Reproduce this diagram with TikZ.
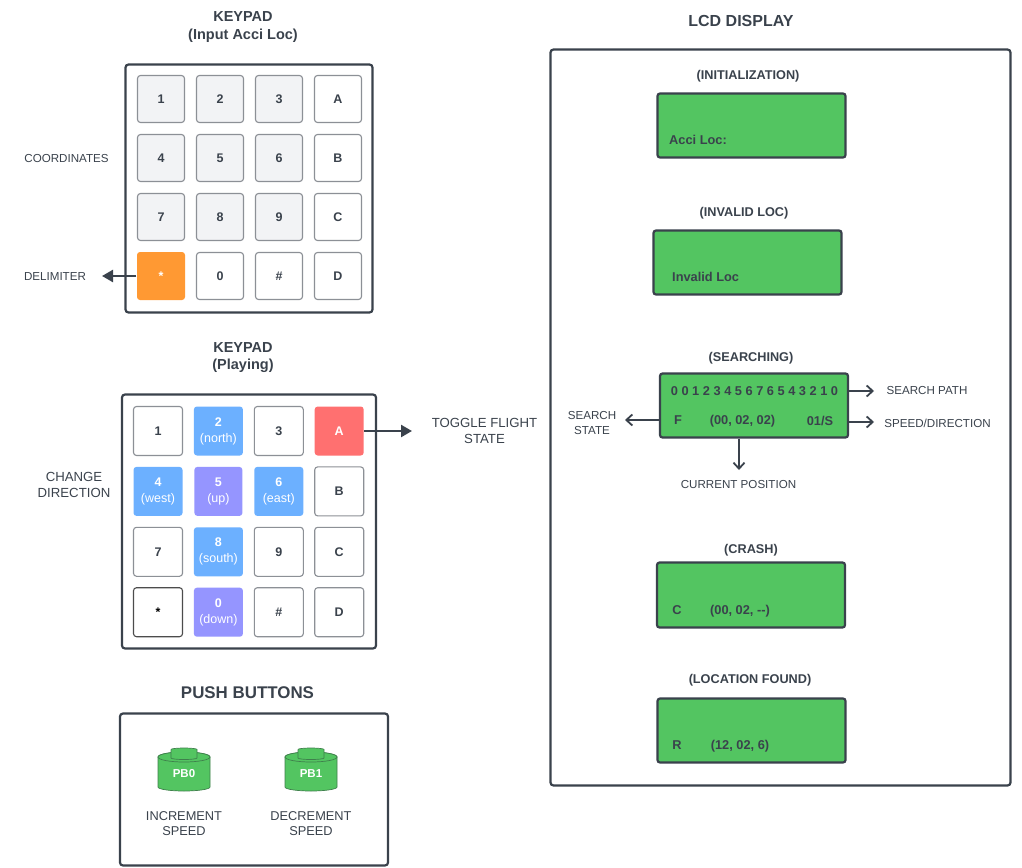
\documentclass[tikz,border=0pt]{standalone}
\usepackage{fontspec}
\setmainfont{Liberation Sans}
\usepackage{tikz}
\usetikzlibrary{positioning,arrows.meta}
\definecolor{ink}{HTML}{3A424C}
\definecolor{keyline}{HTML}{8C9096}
\definecolor{keygrey}{HTML}{F2F3F5}
\definecolor{keyorange}{HTML}{FF9933}
\definecolor{keyred}{HTML}{FF7070}
\definecolor{keyblue}{HTML}{6CB0FF}
\definecolor{keypurple}{HTML}{9595FF}
\definecolor{lcdgreen}{HTML}{53C561}
\definecolor{pbline}{HTML}{3F7F4C}
\tikzstyle{frame}    = [rectangle, rounded corners=3pt, line width=2.2pt, draw=ink, fill=white]
\tikzstyle{keypad}   = [rectangle, rounded corners=3pt, inner sep=0, line width=1.1pt, align=center, draw=keyline, fill=white, text=ink, font=\fontsize{12.5}{16}\selectfont]
\tikzstyle{keygray}  = [keypad, fill=keygrey, minimum width=47pt, minimum height=47pt]
\tikzstyle{keyplain} = [keypad, minimum width=47pt, minimum height=47pt]
\tikzstyle{keyfill}  = [keypad, draw=none, text=white]
\tikzstyle{lcd}      = [rectangle, rounded corners=2.5pt, line width=2.2pt, draw=ink, fill=lcdgreen, minimum width=188pt, minimum height=64pt]
\tikzstyle{title}    = [align=center, text=ink, font=\fontsize{14.5}{17.5}\selectfont\bfseries]
\tikzstyle{subtitle} = [text=ink, font=\fontsize{12.7}{15}\selectfont\bfseries]
\tikzstyle{lcdtext}  = [text=ink, inner sep=0, font=\fontsize{12.8}{15}\selectfont\bfseries]
\tikzstyle{note}     = [align=center, text=ink, inner sep=0, font=\fontsize{11.6}{15}\selectfont]
\tikzstyle{bignote}  = [align=center, text=ink, inner sep=0, font=\fontsize{13.2}{16}\selectfont]
\tikzstyle{pbnote}   = [align=center, text=ink, inner sep=0, font=\fontsize{12.8}{15}\selectfont]
\tikzstyle{arrow}    = [line width=2.4pt, draw=ink, -{Triangle[length=11pt,width=12pt]}]
\tikzstyle{barb}     = [line width=1.8pt, draw=ink, -{Straight Barb[length=6pt,width=11pt]}]
\tikzstyle{pbody}    = [draw=pbline, line width=0.7pt, fill=lcdgreen]
\newcommand{\pushbutton}[3]{
	\begin{scope}[shift={(#2)}]
		\draw [pbody] (-26,0) -- (-26,30) arc[start angle=180,end angle=360,x radius=26pt,y radius=4pt] -- (26,0) arc[start angle=0,end angle=180,x radius=26pt,y radius=5pt];
		\draw [pbody] (0,0) ellipse [x radius=26pt,y radius=5pt];
		\draw [pbody] (-13,-7.5) -- (-13,1) arc[start angle=180,end angle=360,x radius=13pt,y radius=1.5pt] -- (13,-7.5) arc[start angle=0,end angle=180,x radius=13pt,y radius=1.5pt];
		\node (#1) [text=white, font=\fontsize{11.5}{14}\selectfont\bfseries] at (0,17) {#3};
	\end{scope}
}

\begin{document}
\begin{tikzpicture}[x=1pt, y=-1pt]
	\useasboundingbox (0,0) rectangle (1022,867);

	% input keypad
	\node (inhead) [title] at (243,27) {KEYPAD\\(Input Acci Loc)};
	\node (inframe) [frame, minimum width=247pt, minimum height=248pt] at (249,188.5) {};
	\begin{scope}[node distance=59pt]
		\node (in1) [keygray] at (161,99) {\textbf{1}};
		\node (in2) [keygray, right of=in1] {\textbf{2}};
		\node (in3) [keygray, right of=in2] {\textbf{3}};
		\node (inA) [keyplain, right of=in3] {\textbf{A}};
		\node (in4) [keygray, below of=in1] {\textbf{4}};
		\node (in5) [keygray, right of=in4] {\textbf{5}};
		\node (in6) [keygray, right of=in5] {\textbf{6}};
		\node (inB) [keyplain, right of=in6] {\textbf{B}};
		\node (in7) [keygray, below of=in4] {\textbf{7}};
		\node (in8) [keygray, right of=in7] {\textbf{8}};
		\node (in9) [keygray, right of=in8] {\textbf{9}};
		\node (inC) [keyplain, right of=in9] {\textbf{C}};
		\node (instar) [keyfill, fill=keyorange, text=white, minimum width=48pt, minimum height=48pt, below of=in7] {\textbf{*}};
		\node (in0) [keyplain, right of=instar] {\textbf{0}};
		\node (inhash) [keyplain, right of=in0] {\textbf{\#}};
		\node (inD) [keyplain, right of=inhash] {\textbf{D}};
	\end{scope}
	\node (coords) [note] at (66.5,158.5) {COORDINATES};
	\node (delim) [note] at (55,276.5) {DELIMITER};
	\coordinate (delimend) at (102,276);
	\draw [arrow] (instar) -- (delimend);

	% playing keypad
	\node (playhead) [title] at (243,357.5) {KEYPAD\\(Playing)};
	\node (playframe) [frame, minimum width=254pt, minimum height=254pt] at (249,521.5) {};
	\begin{scope}[node distance=60.4pt]
		\node (play1) [keyplain, minimum width=49pt, minimum height=49pt] at (158,431) {\textbf{1}};
		\node (play2) [keyfill, fill=keyblue, minimum width=49pt, minimum height=49pt, right of=play1] {\textbf{2}\\(north)};
		\node (play3) [keyplain, minimum width=49pt, minimum height=49pt, right of=play2] {\textbf{3}};
		\node (playA) [keyfill, fill=keyred, minimum width=49pt, minimum height=49pt, right of=play3] {\textbf{A}};
		\node (play4) [keyfill, fill=keyblue, minimum width=49pt, minimum height=49pt, below of=play1] {\textbf{4}\\(west)};
		\node (play5) [keyfill, fill=keypurple, minimum width=48pt, minimum height=49pt, right of=play4] {\textbf{5}\\(up)};
		\node (play6) [keyfill, fill=keyblue, minimum width=49pt, minimum height=49pt, right of=play5] {\textbf{6}\\(east)};
		\node (playB) [keyplain, minimum width=49pt, minimum height=49pt, right of=play6] {\textbf{B}};
		\node (play7) [keyplain, minimum width=49pt, minimum height=49pt, below of=play4] {\textbf{7}};
		\node (play8) [keyfill, fill=keyblue, minimum width=49pt, minimum height=49pt, right of=play7] {\textbf{8}\\(south)};
		\node (play9) [keyplain, minimum width=49pt, minimum height=49pt, right of=play8] {\textbf{9}};
		\node (playC) [keyplain, minimum width=49pt, minimum height=49pt, right of=play9] {\textbf{C}};
		\node (playstar) [keyplain, draw=black!70, text=black, minimum width=49pt, minimum height=49pt, below of=play7] {\textbf{*}};
		\node (play0) [keyfill, fill=keypurple, minimum width=49pt, minimum height=49pt, right of=playstar] {\textbf{0}\\(down)};
		\node (playhash) [keyplain, minimum width=49pt, minimum height=49pt, right of=play0] {\textbf{\#}};
		\node (playD) [keyplain, minimum width=49pt, minimum height=49pt, right of=playhash] {\textbf{D}};
	\end{scope}
	\node (change) [bignote] at (74,484.5) {CHANGE\\DIRECTION};
	\node (toggle) [bignote] at (484.5,431) {TOGGLE FLIGHT\\STATE};
	\coordinate (toggleend) at (412,431);
	\draw [arrow] (playA) -- (toggleend);

	% push buttons
	\node (pushhead) [title, font=\fontsize{16.9}{19}\selectfont\bfseries] at (247.5,693) {PUSH BUTTONS};
	\node (pushframe) [frame, minimum width=268pt, minimum height=152pt] at (254,789.5) {};
	\pushbutton{pb0}{184,757}{PB0}
	\pushbutton{pb1}{311,757}{PB1}
	\node (incr) [pbnote, below of=pb0, node distance=50pt] {INCREMENT\\SPEED};
	\node (decr) [pbnote, below of=pb1, node distance=50pt] {DECREMENT\\SPEED};

	% lcd display
	\node (lcdhead) [title, font=\fontsize{16}{19}\selectfont\bfseries] at (741,20.5) {LCD DISPLAY};
	\node (lcdframe) [frame, minimum width=460pt, minimum height=736pt] at (780.5,417.5) {};

	\node (inithead) [subtitle] at (748,76) {(INITIALIZATION)};
	\node (lcdinit) [lcd] at (751.5,125.5) {};
	\node (inittext) [lcdtext, anchor=west] at (669,139.5) {Acci Loc:};

	\node (invalidhead) [subtitle] at (744,213) {(INVALID LOC)};
	\node (lcdinvalid) [lcd] at (747.5,262.5) {};
	\node (invalidtext) [lcdtext, anchor=west] at (672,276.5) {Invalid Loc};

	\node (searchhead) [subtitle] at (751,358) {(SEARCHING)};
	\node (lcdsearch) [lcd] at (754,405.5) {};
	\node (searchpath) [lcdtext] at (754.5,391) {0 0 1 2 3 4 5 6 7 6 5 4 3 2 1 0};
	\node (searchstate) [lcdtext] at (678,420.5) {F};
	\node (searchpos) [lcdtext] at (742.5,421.5) {(00, 02, 02)};
	\node (searchspeed) [lcdtext] at (820,420.5) {01/S};
	\node (pathlabel) [note] at (927,390.5) {SEARCH PATH};
	\node (speedlabel) [note] at (937.5,423.5) {SPEED/DIRECTION};
	\node (statelabel) [note] at (592,423.5) {SEARCH\\STATE};
	\node (poslabel) [note] at (738.5,484.5) {CURRENT POSITION};
	\coordinate (pathend) at (874,391);
	\coordinate (speedend) at (874,422);
	\coordinate (stateend) at (625,420);
	\coordinate (posend) at (739,470);
	\draw [barb] (lcdsearch.east |- pathend) -- (pathend);
	\draw [barb] (lcdsearch.east |- speedend) -- (speedend);
	\draw [barb] (lcdsearch.west |- stateend) -- (stateend);
	\draw [barb] (lcdsearch.south -| posend) -- (posend);

	\node (crashhead) [subtitle] at (751,550) {(CRASH)};
	\node (lcdcrash) [lcd, minimum height=65pt] at (751,595) {};
	\node (crashstate) [lcdtext] at (677,610.5) {C};
	\node (crashpos) [lcdtext] at (740,611.5) {(00, 02, -{}-)};

	\node (foundhead) [subtitle] at (750,680) {(LOCATION FOUND)};
	\node (lcdfound) [lcd] at (751.5,730.5) {};
	\node (foundstate) [lcdtext] at (677,745.5) {R};
	\node (foundpos) [lcdtext] at (740,746.5) {(12, 02, 6)};
\end{tikzpicture}
\end{document}
